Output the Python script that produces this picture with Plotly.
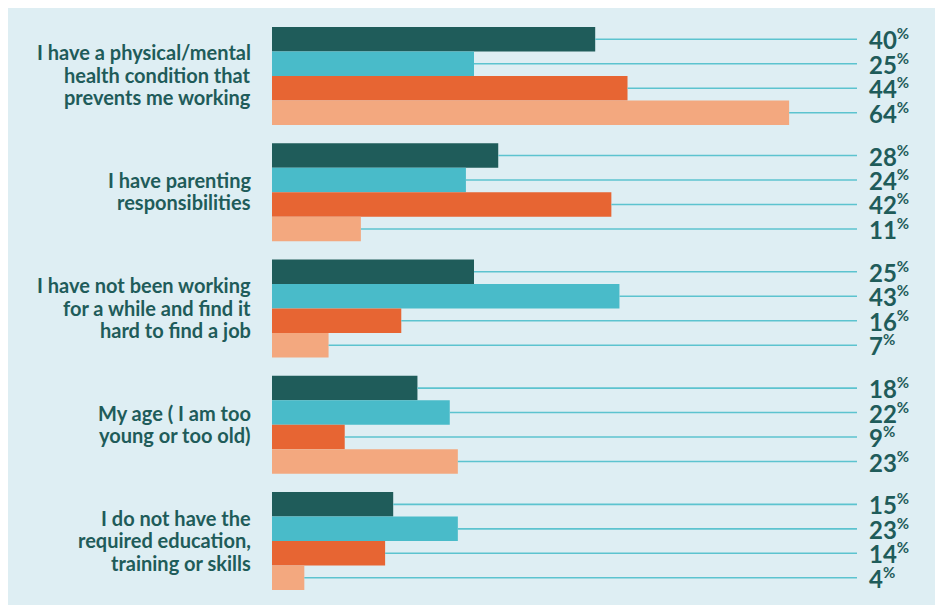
import plotly.graph_objects as go

categories = [
    ["I have a physical/mental", "health condition that", "prevents me working"],
    ["I have parenting", "responsibilities"],
    ["I have not been working", "for a while and find it", "hard to find a job"],
    ["My age ( I am too", "young or too old)"],
    ["I do not have the", "required education,", "training or skills"],
]
series_names = ["Series 1", "Series 2", "Series 3", "Series 4"]
series_values = [
    [40, 28, 25, 18, 15],
    [25, 24, 43, 22, 23],
    [44, 42, 16, 9, 14],
    [64, 11, 7, 23, 4],
]
series_colors = ["#1f5c5a", "#49bbc9", "#e76533", "#f3a87f"]

TEXT = "#1f5c5a"
PANEL = "#deeef3"
LINE = "#5cc3cf"
X_MAX = 72.4
GROUP_PITCH = 4.75

OFF = 8  # default page body margin
W, H = 943 - OFF, 606 - OFF
L, R, T, B = 272 - OFF, 86, 15 - OFF, 6
PW, PH = W - L - R, H - T - B
PX_PER_UNIT = 24.48

def ypos(i, j):
    return -(i * GROUP_PITCH + j)

fig = go.Figure()

for j, (name, vals, col) in enumerate(zip(series_names, series_values, series_colors)):
    ys = [ypos(i, j) for i in range(len(categories))]
    fig.add_trace(go.Bar(
        x=vals, y=ys, orientation="h", width=1.0, name=name,
        marker=dict(color=col, line=dict(width=0)),
        hoverinfo="x",
    ))

for j, vals in enumerate(series_values):
    xs, ys = [], []
    for i, v in enumerate(vals):
        yy = ypos(i, j)
        xs += [v, X_MAX, None]
        ys += [yy, yy, None]
    fig.add_trace(go.Scatter(
        x=xs, y=ys, mode="lines", line=dict(color=LINE, width=1.6),
        hoverinfo="skip", showlegend=False,
    ))

annotations = []
for j, vals in enumerate(series_values):
    for i, v in enumerate(vals):
        annotations.append(dict(
            x=1, xref="paper", y=ypos(i, j), yref="y",
            xanchor="left", yanchor="middle", xshift=10, yshift=0,
            text=f"<b>{v}<sup><span style='font-size:15px'>%</span></sup></b>",
            showarrow=False,
            font=dict(family="Lato", size=24, color=TEXT),
        ))

LINE_PITCH = 22.5
for i, lines in enumerate(categories):
    n = len(lines)
    for k, ln in enumerate(lines):
        annotations.append(dict(
            x=0, xref="paper", y=ypos(i, 1.5), yref="y",
            xanchor="right", yanchor="middle", xshift=-19,
            yshift=((n - 1) / 2 - k) * LINE_PITCH + 1,
            text=f"<b>{ln}</b>", showarrow=False, align="right",
            font=dict(family="Lato", size=20, color=TEXT),
        ))

shapes = [dict(
    type="rect", xref="paper", yref="paper", layer="below",
    x0=(6 - OFF - L) / PW, x1=(941 - OFF - L) / PW,
    y0=1 - (605 - OFF - T) / PH, y1=1 + (T - (4 - OFF)) / PH,
    fillcolor=PANEL, line=dict(width=0),
)]

y_top = 0.5 + (27 - 15) / PX_PER_UNIT
y_bot = y_top - PH / PX_PER_UNIT

fig.update_layout(
    width=W, height=H,
    margin=dict(l=L, r=R, t=T, b=B),
    paper_bgcolor="white", plot_bgcolor="rgba(0,0,0,0)",
    barmode="overlay", showlegend=False,
    xaxis=dict(range=[0, X_MAX], visible=False, fixedrange=True),
    yaxis=dict(range=[y_bot, y_top], visible=False, fixedrange=True),
    annotations=annotations, shapes=shapes,
)

fig.write_html("out.html")
